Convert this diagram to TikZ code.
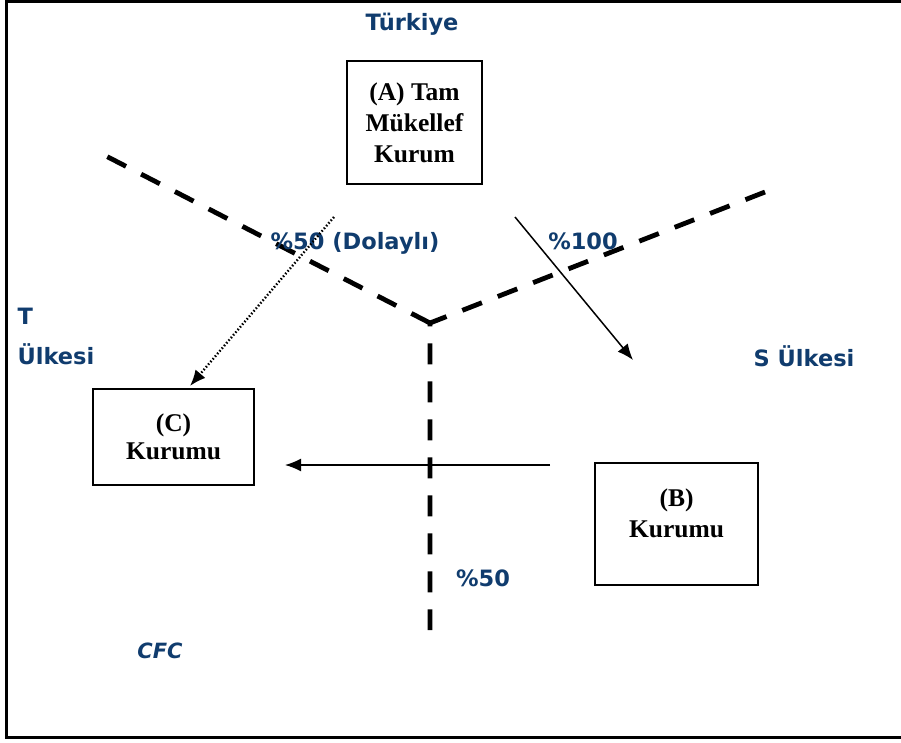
\documentclass[tikz,border=0pt]{standalone}
\usepackage{fontspec}
\setmainfont{Liberation Serif}
\newfontfamily\lblfont{DejaVu Sans}
\usetikzlibrary{arrows.meta}
\definecolor{navy}{RGB}{16,60,110}
\tikzset{
	kutu/.style={draw, line width=1.8pt, font=\bfseries\fontsize{25.5}{31}\selectfont, align=center},
	etiket/.style={text=navy, font=\lblfont\bfseries\fontsize{22.5}{40}\selectfont},
	sinir/.style={line width=4.8pt, dash pattern=on 21pt off 17pt},
	ok/.style={line width=1.5pt, -{Latex[length=16pt,width=13pt]}}
}
\begin{document}
\begin{tikzpicture}[x=1pt, y=-1pt]
	\useasboundingbox (0,0) rectangle (901,742);
	\clip (0,0) rectangle (901,742);
	\draw[line width=3pt] (6,1.5) rectangle (930,737.5);
	
	% ulke sinirlari
	\coordinate (M) at (430,323);
	\draw[sinir] (M) -- (104,155);
	\draw[sinir] (765,192) -- (M) -- (430,630);
	
	% kurumlar
	\node[kutu, minimum width=135pt, minimum height=123pt] (A) at (414.5,122.5) {(A) Tam\\M\"ukellef\\Kurum};
	\node[kutu, minimum width=161pt, minimum height=96pt, font=\bfseries\fontsize{25.5}{28}\selectfont] (C) at (173.5,437) {(C)\\Kurumu};
	\node[kutu, minimum width=163pt, minimum height=122pt, text depth=22pt] (B) at (676.5,524) {(B)\\Kurumu};
	
	% ulke ve oran etiketleri
	\node[etiket] (tr) at (412,24) {Türkiye};
	\node[etiket, align=left, anchor=west] (T) at (14,336) {T\\Ülkesi};
	\node[etiket] (S) at (804,356) {S Ülkesi};
	\node[etiket] (d50) at (355,243) {\%50 (Dolaylı)};
	\node[etiket] (p100) at (583,241) {\%100};
	\node[etiket] (p50) at (483,578) {\%50};
	\node[etiket, font=\lblfont\bfseries\itshape\fontsize{21}{21}\selectfont] (cfc) at (160,651) {CFC};
	
	% ortaklik oklari
	\coordinate (a1) at (515,217);
	\coordinate (b1) at (633,360);
	\coordinate (b2) at (550,465);
	\coordinate (c1) at (285,465);
	\coordinate (d1) at (334,217);
	\coordinate (c2) at (190,386);
	\draw[ok] (a1) -- (b1);
	\draw[ok] (b2) -- (c1);
	\draw[ok, dotted, line width=2.4pt] (d1) -- (c2);
\end{tikzpicture}
\end{document}
